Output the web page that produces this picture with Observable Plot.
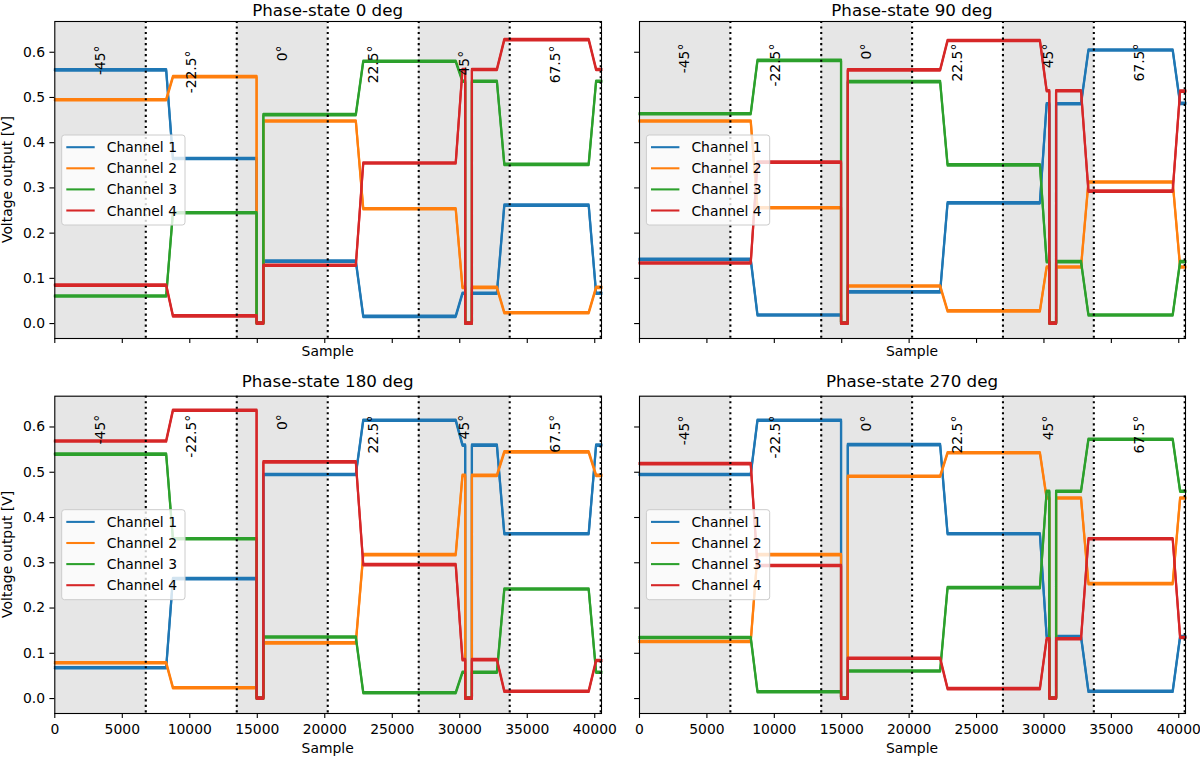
<!DOCTYPE html>
<html>
<head>
<meta charset="utf-8">
<script src="https://cdn.jsdelivr.net/npm/d3@7"></script>
<script src="https://cdn.jsdelivr.net/npm/@observablehq/plot@0.6"></script>
<style>
html, body { margin: 0; padding: 0; background: #fff; }
#chart { position: relative; width: 1200px; height: 758px; overflow: hidden; font-family: "DejaVu Sans", sans-serif; }
#chart > svg { position: absolute; max-width: none; }
</style>
</head>
<body>
<div id="chart"></div>
<script>
// ---------------- DATA ----------------
const channels = ["Channel 1", "Channel 2", "Channel 3", "Channel 4"];
const channelColors = ["#1f77b4", "#ff7f0e", "#2ca02c", "#d62728"];
const panelTitles = ["Phase-state 0 deg", "Phase-state 90 deg", "Phase-state 180 deg", "Phase-state 270 deg"];

const angleLabels = ["-45°", "-22.5°", "0°", "22.5°", "45°", "67.5°"];
const angleLabelSamples = [3370, 10110, 16850, 23590, 30330, 37070];
// top (end) of each rotated angle label, in volts, per panel
const angleLabelTops = [
  [0.615, 0.604, 0.615, 0.615, 0.603, 0.615],
  [0.619, 0.619, 0.619, 0.619, 0.619, 0.619],
  [0.627, 0.627, 0.628, 0.625, 0.627, 0.627],
  [0.625, 0.625, 0.625, 0.625, 0.625, 0.625]
];
const segmentBoundaries = [6740, 13480, 20220, 26960, 33700, 40440];
const shadedStarts = [0, 13480, 26960];
const shadedEnds = [6740, 20220, 33700];

const sampleTicks = [0, 5000, 10000, 15000, 20000, 25000, 30000, 35000, 40000];
const voltTicks = [0.0, 0.1, 0.2, 0.3, 0.4, 0.5, 0.6];
const sampleDomain = [0, 40500];
const voltDomain = [-0.033, 0.668];

// Timeline of breakpoints: sample index and which plateau (state 0..6) applies; "off" = signal drop-out
const timelineSamples = [0, 8250, 8750, 14950, 14950, 15450, 15450, 22300, 22850, 29700, 30200, 30400, 30400, 30900, 30900, 32750, 33300, 39550, 40100, 40500];
const timelineStates  = [0, 0, 1, 1, "off", "off", 2, 2, 3, 3, 4, 4, "off", "off", 4, 4, 5, 5, 6, 6];
const dropoutLevel = 0.001;

// Plateau voltages [state0..state6] per channel, per panel
const levels0 = [
  [0.561, 0.365, 0.138, 0.016, 0.067, 0.262, 0.067],
  [0.495, 0.546, 0.448, 0.254, 0.080, 0.024, 0.080],
  [0.061, 0.245, 0.462, 0.580, 0.536, 0.352, 0.536],
  [0.085, 0.017, 0.129, 0.355, 0.562, 0.628, 0.562]
];
const levels90 = [
  [0.142, 0.019, 0.070, 0.267, 0.486, 0.605, 0.487],
  [0.448, 0.256, 0.083, 0.028, 0.125, 0.313, 0.125],
  [0.464, 0.582, 0.535, 0.351, 0.137, 0.019, 0.137],
  [0.134, 0.357, 0.561, 0.626, 0.515, 0.293, 0.514]
];
const levels180 = [
  [0.068, 0.265, 0.495, 0.615, 0.560, 0.364, 0.560],
  [0.079, 0.024, 0.123, 0.318, 0.493, 0.545, 0.493],
  [0.540, 0.353, 0.136, 0.013, 0.058, 0.242, 0.058],
  [0.569, 0.637, 0.523, 0.296, 0.086, 0.016, 0.084]
];
const levels270 = [
  [0.495, 0.615, 0.561, 0.364, 0.137, 0.016, 0.137],
  [0.126, 0.318, 0.491, 0.543, 0.443, 0.254, 0.443],
  [0.135, 0.015, 0.061, 0.245, 0.458, 0.573, 0.458],
  [0.519, 0.294, 0.089, 0.022, 0.132, 0.353, 0.135]
];
const panelLevels = [levels0, levels90, levels180, levels270];

// ---------------- LAYOUT ----------------
const FS = 13.9;
const panels = [
  {left: 0,   top: 0,   width: 610, height: 379, mL: 54.3, mR: 9,  mT: 21,   mB: 41, showX: false, showY: true,  xLabelBase: 356},
  {left: 600, top: 0,   width: 600, height: 379, mL: 39,   mR: 15, mT: 21,   mB: 41, showX: false, showY: false, xLabelBase: 356},
  {left: 0,   top: 379, width: 610, height: 379, mL: 54.3, mR: 9,  mT: 16.7, mB: 45, showX: true,  showY: true,  xLabelBase: 753},
  {left: 600, top: 379, width: 600, height: 379, mL: 39,   mR: 15, mT: 16.7, mB: 45, showX: true,  showY: false, xLabelBase: 753}
];

const chart = document.getElementById("chart");

function buildRows(levels, c) {
  return timelineSamples.map((s, i) => ({
    sample: s,
    volts: timelineStates[i] === "off" ? dropoutLevel : levels[c][timelineStates[i]],
    channel: channels[c]
  }));
}

panels.forEach((p, pi) => {
  const levels = panelLevels[pi];
  const lineMarks = [];
  channels.forEach((ch, c) => {
    const rows = buildRows(levels, c);
    lineMarks.push(Plot.line(rows, {x: "sample", y: "volts", stroke: "channel", strokeWidth: 2.2, dy: -0.7, strokeLinejoin: "round"}));
    lineMarks.push(Plot.line(rows, {x: "sample", y: "volts", stroke: "channel", strokeWidth: 2.2, dy: 0.7, strokeLinejoin: "round"}));
  });
  const shades = shadedStarts.map((s, i) => ({start: s, end: shadedEnds[i]}));
  const svg = Plot.plot({
    width: p.width, height: p.height,
    marginLeft: p.mL, marginRight: p.mR, marginTop: p.mT, marginBottom: p.mB,
    style: {fontFamily: "DejaVu Sans", fontSize: FS + "px", color: "black", background: "transparent", overflow: "visible"},
    x: {domain: sampleDomain},
    y: {domain: voltDomain},
    color: {domain: channels, range: channelColors},
    marks: [
      Plot.rect(shades, {x1: "start", x2: "end", fill: "#e6e6e6"}),
      ...lineMarks,
      Plot.ruleX(segmentBoundaries, {stroke: "black", strokeWidth: 2.08, strokeDasharray: "2.08,3.44"}),
      Plot.text(angleLabels, {
        x: (d, i) => angleLabelSamples[i], y: (d, i) => angleLabelTops[pi][i], text: d => d,
        rotate: -90, textAnchor: "end", lineAnchor: "middle", fontSize: FS, fill: "black"
      }),
      Plot.frame({stroke: "black", strokeWidth: 1.1}),
      Plot.axisX({ticks: sampleTicks, tickSize: 4.9, tickPadding: 5.5, strokeWidth: 1.1, fontSize: FS, label: null,
        tickFormat: p.showX ? (d => String(d)) : (() => "")}),
      Plot.axisY({ticks: voltTicks, tickSize: 4.9, tickPadding: 4.9, strokeWidth: 1.1, fontSize: FS, label: null,
        tickFormat: p.showY ? d3.format(".1f") : (() => "")})
    ]
  });
  svg.style.left = p.left + "px";
  svg.style.top = p.top + "px";
  chart.appendChild(svg);
});

// ---------------- OVERLAY: titles, axis labels, legends ----------------
const NS = "http://www.w3.org/2000/svg";
const overlay = document.createElementNS(NS, "svg");
overlay.setAttribute("width", 1200);
overlay.setAttribute("height", 758);
overlay.style.left = "0px"; overlay.style.top = "0px";
overlay.setAttribute("font-family", "DejaVu Sans");
function el(tag, attrs, text) {
  const e = document.createElementNS(NS, tag);
  for (const k in attrs) e.setAttribute(k, attrs[k]);
  if (text != null) e.textContent = text;
  overlay.appendChild(e);
  return e;
}
panels.forEach((p, pi) => {
  const fl = p.left + p.mL, fr = p.left + p.width - p.mR;
  const ft = p.top + p.mT, fb = p.top + p.height - p.mB;
  const cx = (fl + fr) / 2, cy = (ft + fb) / 2;
  el("text", {x: cx, y: Math.max(ft - 8.3, 15.5), "text-anchor": "middle", "font-size": 16.7, fill: "#000"}, panelTitles[pi]);
  el("text", {x: cx, y: p.xLabelBase, "text-anchor": "middle", "font-size": FS, fill: "#000"}, "Sample");
  if (p.showY) {
    el("text", {transform: `translate(11.8,${cy}) rotate(-90)`, "text-anchor": "middle", "font-size": FS, fill: "#000"}, "Voltage output [V]");
  }
  // legend (center left)
  const bx = fl + 7.4, by = ft + 114, bw = 123.3, bh = 90;
  el("rect", {x: bx, y: by, width: bw, height: bh, rx: 2.8, fill: "#fff", "fill-opacity": 0.8, stroke: "#cccccc", "stroke-width": 1});
  channels.forEach((ch, c) => {
    const ey = by + 12.2 + 21.1 * c;
    el("line", {x1: bx + 4.6, x2: bx + 33, y1: ey, y2: ey, stroke: channelColors[c], "stroke-width": 2.08});
    el("text", {x: bx + 45, y: ey + 5, "font-size": FS, fill: "#000"}, ch);
  });
});
chart.appendChild(overlay);
</script>
</body>
</html>
